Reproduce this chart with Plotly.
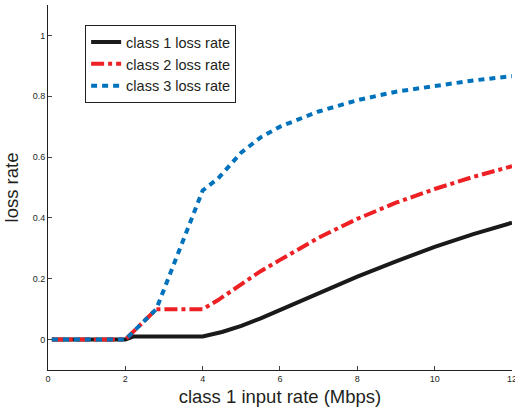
import plotly.graph_objects as go

x1 = [0.1, 2, 2.2, 4, 4.5, 5, 5.5, 6, 7, 8, 9, 10, 11, 12]
y1 = [0, 0, 0.01, 0.01, 0.025, 0.045, 0.07, 0.098, 0.153, 0.207, 0.257, 0.305, 0.347, 0.384]

x2 = [0.1, 2, 2.8, 4, 4.4, 5, 5.5, 6, 7, 8, 9, 10, 11, 12]
y2 = [0, 0, 0.1, 0.1, 0.13, 0.18, 0.225, 0.262, 0.335, 0.397, 0.45, 0.495, 0.535, 0.57]

x3 = [0.1, 2, 2.8, 4, 4.4, 5, 5.5, 6, 7, 8, 9, 10, 11, 12]
y3 = [0, 0, 0.1, 0.49, 0.53, 0.615, 0.665, 0.70, 0.75, 0.787, 0.815, 0.835, 0.852, 0.866]

names = ["class 1 loss rate", "class 2 loss rate", "class 3 loss rate"]
xticks = [0, 2, 4, 6, 8, 10, 12]
yticks = [0, 0.2, 0.4, 0.6, 0.8, 1]

fig = go.Figure()
fig.add_trace(go.Scatter(x=x1, y=y1, mode="lines", name=names[0],
                         line=dict(color="#1a1a1a", width=4)))
fig.add_trace(go.Scatter(x=x2, y=y2, mode="lines", name=names[1],
                         line=dict(color="#ED2024", width=4, dash="13px,4px,4px,4px")))
fig.add_trace(go.Scatter(x=x3, y=y3, mode="lines", name=names[2],
                         line=dict(color="#0072BC", width=4, dash="6px,5px")))

fig.update_layout(
    width=515, height=413,
    margin=dict(l=48, r=3, t=5, b=43, autoexpand=False),
    paper_bgcolor="white", plot_bgcolor="white",
    font=dict(family="Liberation Sans, Arial, sans-serif", color="#231f20"),
    showlegend=True,
    legend=dict(x=0.08, y=0.945, xanchor="left", yanchor="top",
                bordercolor="#231f20", borderwidth=1, bgcolor="white",
                font=dict(size=14.5), tracegroupgap=0),
    xaxis=dict(range=[0, 12.0005], tickvals=xticks, ticks="inside", ticklen=4,
               showline=True, linecolor="#231f20", linewidth=1,
               showgrid=False, zeroline=False, tickfont=dict(size=9),
               ticklabeloverflow="allow", automargin=False,
               title=dict(text="class 1 input rate (Mbps)", font=dict(size=18.5), standoff=7)),
    yaxis=dict(range=[-0.1, 1.1], tickvals=yticks, ticks="inside", ticklen=4,
               showline=True, linecolor="#231f20", linewidth=1,
               showgrid=False, zeroline=False, tickfont=dict(size=9),
               automargin=False,
               title=dict(text="loss rate", font=dict(size=18.5), standoff=9)),
)

fig.write_html("out.html")
